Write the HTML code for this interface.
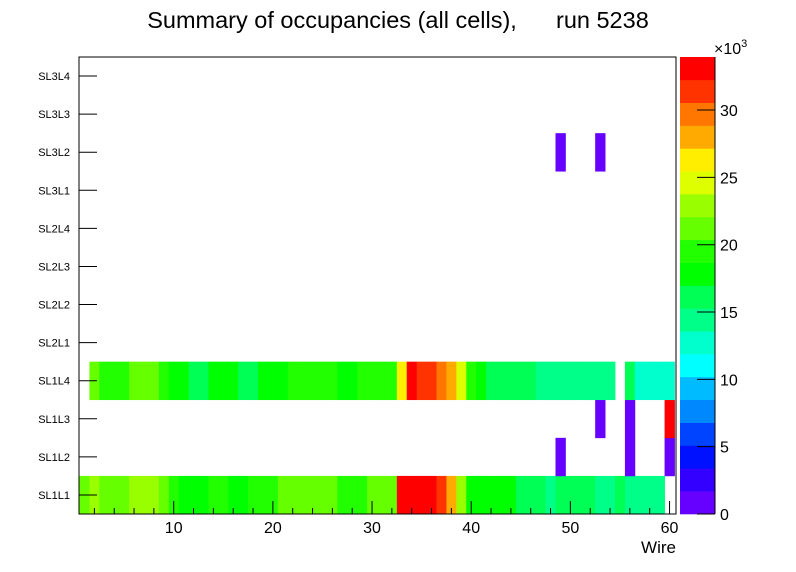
<!DOCTYPE html>
<html><head><meta charset="utf-8"><style>
body{margin:0;background:#fff;font-family:"Liberation Sans",sans-serif}
svg{display:block}
</style></head><body>
<svg id="c" width="796" height="572" xmlns="http://www.w3.org/2000/svg">
<text x="398" y="28" text-anchor="middle" font-size="23.5" style="white-space:pre">Summary of occupancies (all cells),      run 5238</text>
<text x="676" y="553" text-anchor="end" font-size="17">Wire</text>
<text x="714" y="54" font-size="16">×10<tspan dy="-7" font-size="11">3</tspan></text>
</svg>
<script>
const rowLabels=["SL1L1","SL1L2","SL1L3","SL1L4","SL2L1","SL2L2","SL2L3","SL2L4","SL3L1","SL3L2","SL3L3","SL3L4"];
const xTicks=[10,20,30,40,50,60];
const zTicks=[0,5,10,15,20,25,30];
const palette=["#6600ff","#3300ff","#0011ff","#0044ff","#0088ff","#00bbff","#00ffff","#00ffcc","#00ff88","#00ff55","#00ff00","#22ff00","#66ff00","#99ff00","#ddff00","#ffee00","#ffaa00","#ff7700","#ff3300","#ff0000"];
// values in thousands, per wire 1..60 (0 = empty)
const sl1l1=[21.5,23.2,21.5,21.5,21.5,23.2,23.2,23.2,21.5,19.8,18.1,18.1,18.1,19.8,19.8,18.1,18.1,19.8,19.8,19.8,21.5,21.5,21.5,21.5,21.5,21.5,19.8,19.8,19.8,21.5,21.5,21.5,33.1,33.1,33.1,33.1,31.4,28.0,23.2,18.1,18.1,18.1,18.1,18.1,16.4,16.4,16.4,14.7,16.4,16.4,16.4,16.4,14.7,14.7,16.4,14.7,14.7,14.7,14.7,0];
const sl1l2=[0,0,0,0,0,0,0,0,0,0,0,0,0,0,0,0,0,0,0,0,0,0,0,0,0,0,0,0,0,0,0,0,0,0,0,0,0,0,0,0,0,0,0,0,0,0,0,0,0.8,0,0,0,0,0,0,0.8,0,0,0,0.8];
const sl1l3=[0,0,0,0,0,0,0,0,0,0,0,0,0,0,0,0,0,0,0,0,0,0,0,0,0,0,0,0,0,0,0,0,0,0,0,0,0,0,0,0,0,0,0,0,0,0,0,0,0,0,0,0,0.8,0,0,0.8,0,0,0,33.1];
const sl1l4=[0,21.5,19.8,19.8,19.8,21.5,21.5,21.5,19.8,18.1,18.1,16.4,16.4,18.1,18.1,18.1,16.4,16.4,18.1,18.1,18.1,19.8,19.8,19.8,19.8,19.8,18.1,18.1,19.8,19.8,19.8,19.8,26.3,33.1,31.4,31.4,29.7,28.0,24.9,19.8,18.1,16.4,16.4,16.4,16.4,16.4,14.7,14.7,14.7,14.7,14.7,14.7,14.7,14.7,0,16.4,13.0,13.0,13.0,13.0];
const sl3l2=[0,0,0,0,0,0,0,0,0,0,0,0,0,0,0,0,0,0,0,0,0,0,0,0,0,0,0,0,0,0,0,0,0,0,0,0,0,0,0,0,0,0,0,0,0,0,0,0,0.8,0,0,0,0.8,0,0,0,0,0,0,0];
const empty=new Array(60).fill(0);
const rows=[sl1l1,sl1l2,sl1l3,sl1l4,empty,empty,empty,empty,empty,sl3l2,empty,empty];

const NS="http://www.w3.org/2000/svg";
const svg=document.getElementById('c');
const L=79.5,T=57,B=514,R=676;
const xs=w=>L+(w-0.5)*(674.5-L)/60;
const rh=(B-T)/12;
const ys=r=>B-(r+1)*rh;
const zmax=33.94;
const zy=v=>B-v/zmax*(B-T);
function mk(tag,attrs){const e=document.createElementNS(NS,tag);for(const k in attrs)e.setAttribute(k,attrs[k]);svg.appendChild(e);return e;}
function col(v){let i=Math.floor(v/zmax*20);if(i>19)i=19;if(i<0)i=0;return palette[i];}
rows.forEach((row,r)=>{row.forEach((v,i)=>{if(v<=0)return;
  const e=mk('rect',{x:xs(i+0.5),y:ys(r),width:xs(i+1.5)-xs(i+0.5)+0.4,height:rh+0.3,fill:col(v)});
  
  
});});
const fr=mk('rect',{x:79,y:T,width:R-79,height:B-T,fill:'none',stroke:'#000','stroke-width':1});


rowLabels.forEach((lab,r)=>{const yc=ys(r)+rh/2;
  const t=mk('line',{x1:79,x2:97,y1:yc,y2:yc,stroke:'#000'});
  
  
  const tx=mk('text',{x:70,y:yc+4,'text-anchor':'end','font-size':11});tx.textContent=lab;
  
  
});
for(let w=2;w<=60;w+=2){const major=w%10===0;const x=xs(w);
  const t=mk('line',{x1:x,x2:x,y1:B,y2:B-(major?13:6),stroke:'#000'});
  
  }
xTicks.forEach(v=>{const tx=mk('text',{x:xs(v),y:533,'text-anchor':'middle','font-size':16});tx.textContent=v;
  
  });
palette.forEach((c,i)=>{const y0=zy((i+1)*zmax/20),y1=zy(i*zmax/20);
  const e=mk('rect',{x:680,y:y0,width:35,height:y1-y0+0.3,fill:c});
  
  });
const ax=mk('line',{x1:715,x2:715,y1:T,y2:B,stroke:'#000'});


zTicks.forEach(v=>{const y=zy(v);
  const t=mk('line',{x1:697,x2:715,y1:y,y2:y,stroke:'#000'});
  
  
  const tx=mk('text',{x:720,y:y+6,'font-size':16});tx.textContent=v;
  
  });
</script>
</body></html>
